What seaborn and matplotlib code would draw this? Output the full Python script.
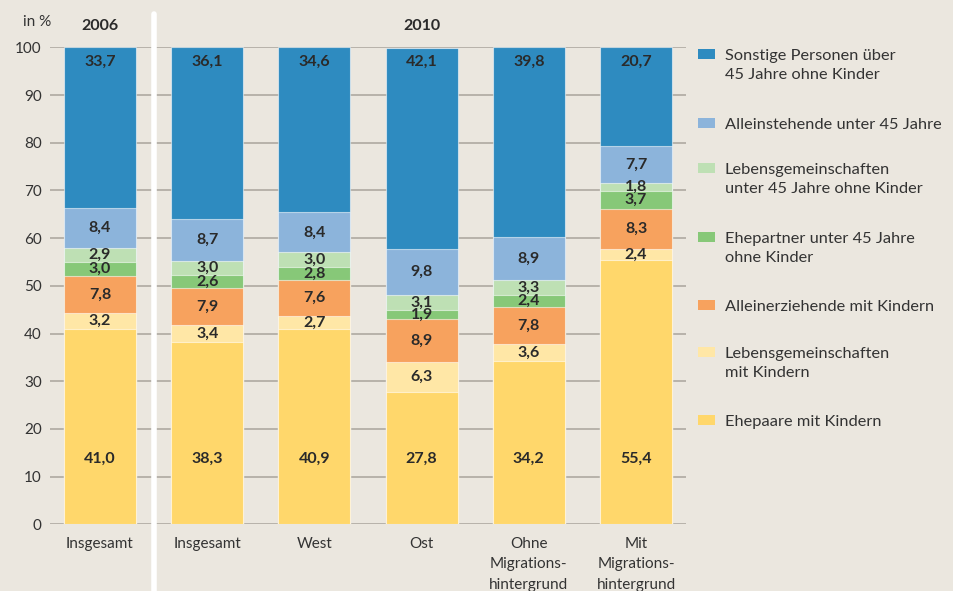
import numpy as np
import pandas as pd
import matplotlib
matplotlib.use("Agg")
import matplotlib.pyplot as plt
from matplotlib.patches import Rectangle
import seaborn as sns

# ---------------- data ----------------
groups = ["g2006", "g2010_ins", "g2010_west", "g2010_ost", "g2010_ohne", "g2010_mit"]
tick_labels = ["Insgesamt", "Insgesamt", "West", "Ost",
               "Ohne\nMigrations-\nhintergrund", "Mit\nMigrations-\nhintergrund"]
series_names = [
    "Ehepaare mit Kindern",
    "Lebensgemeinschaften\nmit Kindern",
    "Alleinerziehende mit Kindern",
    "Ehepartner unter 45 Jahre\nohne Kinder",
    "Lebensgemeinschaften\nunter 45 Jahre ohne Kinder",
    "Alleinstehende unter 45 Jahre",
    "Sonstige Personen über\n45 Jahre ohne Kinder",
]
ehepaare_mit_kindern = [41.0, 38.3, 40.9, 27.8, 34.2, 55.4]
lebensgem_mit_kindern = [3.2, 3.4, 2.7, 6.3, 3.6, 2.4]
alleinerziehende = [7.8, 7.9, 7.6, 8.9, 7.8, 8.3]
ehepartner_u45 = [3.0, 2.6, 2.8, 1.9, 2.4, 3.7]
lebensgem_u45 = [2.9, 3.0, 3.0, 3.1, 3.3, 1.8]
alleinstehende_u45 = [8.4, 8.7, 8.4, 9.8, 8.9, 7.7]
sonstige = [33.7, 36.1, 34.6, 42.1, 39.8, 20.7]
series_values = [ehepaare_mit_kindern, lebensgem_mit_kindern, alleinerziehende,
                 ehepartner_u45, lebensgem_u45, alleinstehende_u45, sonstige]
colors = ["#FFD76B", "#FFE7A6", "#F7A25E", "#87C878", "#BEE0B4", "#8CB4DB", "#2E8BC0"]
year_titles = ["2006", "2010"]

# ---------------- style ----------------
BG = "#EBE7DF"
TXT = "#2A2A2A"
sns.set_theme(style="white")
plt.rcParams["font.family"] = ["Lato", "DejaVu Sans"]
plt.rcParams["text.color"] = TXT

W, H = 954, 591
fig = plt.figure(figsize=(W / 100, H / 100), dpi=100, facecolor=BG)
ax_left, ax_right, ax_top, ax_bot = 50, 686, 47.3, 524.3
ax = fig.add_axes([ax_left / W, (H - ax_bot) / H, (ax_right - ax_left) / W, (ax_bot - ax_top) / H])
ax.set_facecolor(BG)

vals = np.array(series_values)
cum = vals.cumsum(axis=0)

# draw stacked bars from top layer down (cumulative heights)
for i in range(len(series_names) - 1, -1, -1):
    df = pd.DataFrame({"group": groups, "value": cum[i]})
    sns.barplot(data=df, x="group", y="value", order=groups, color=colors[i],
                width=0.67, saturation=1, edgecolor=(1, 1, 1, 0.55), linewidth=0.8,
                ax=ax, zorder=2)

# segment labels
for i in range(len(series_names)):
    for j in range(len(groups)):
        v = vals[i, j]
        lo = cum[i, j] - v
        if i == 0:
            y = 13.8
        elif i == len(series_names) - 1:
            y = 97
        else:
            y = lo + v / 2
        ax.text(j, y, f"{v:.1f}".replace(".", ","), ha="center", va="center",
                fontsize=11.5, fontweight="bold", color=TXT, zorder=5)

ax.set_ylim(0, 100)
ax.set_xlim(-0.466, 5.466)
ax.set_yticks(np.arange(0, 101, 10))
ax.yaxis.grid(True, color="#B3AEA6", linewidth=1.3)
ax.set_axisbelow(True)
for s in ax.spines.values():
    s.set_visible(False)
ax.tick_params(axis="both", length=0, labelsize=11, colors="#333333")
ax.tick_params(axis="y", pad=6)
ax.tick_params(axis="x", pad=9)
ax.set_xticks(range(len(groups)))
ax.set_xticklabels(tick_labels, linespacing=1.6, va="top")
ax.set_xlabel("")
ax.set_ylabel("")

# separator
ax.axvline(0.5, ymin=-(H - ax_bot) / (ax_bot - ax_top), ymax=(ax_bot - 14) / (ax_bot - ax_top),
           color="white", linewidth=4, clip_on=False, zorder=6)

# titles
ax.text(0, 1.045, year_titles[0], transform=ax.get_xaxis_transform(), ha="center",
        va="center", fontsize=11.5, fontweight="bold")
ax.text(3, 1.045, year_titles[1], transform=ax.get_xaxis_transform(), ha="center",
        va="center", fontsize=11.5, fontweight="bold")
fig.text(37 / W, 1 - 22 / H, "in %", ha="center", va="center", fontsize=11, color="#333333")

# legend (manual)
patch_centers = [54, 123, 168, 237, 305, 352, 420]
legend_order = list(range(len(series_names) - 1, -1, -1))
for k, idx in enumerate(legend_order):
    yc = patch_centers[k]
    fig.patches.append(Rectangle((698 / W, 1 - (yc + 5) / H), 17 / W, 10 / H,
                                 transform=fig.transFigure, facecolor=colors[idx],
                                 edgecolor="none"))
    fig.text(725 / W, 1 - (yc - 5) / H, series_names[idx], ha="left", va="top",
             fontsize=11.8, linespacing=1.45, color="#333333")

fig.savefig("out.png", dpi=100, facecolor=BG)
